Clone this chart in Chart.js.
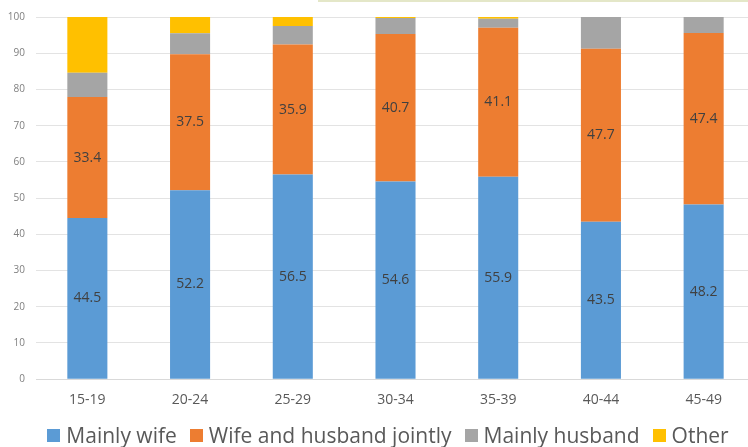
<!DOCTYPE html>
<html>
<head>
<meta charset="utf-8">
<script src="https://cdn.jsdelivr.net/npm/chart.js@4.4.1/dist/chart.umd.min.js"></script>
<style>
  html, body { margin: 0; padding: 0; background: #fff; overflow: hidden; }
  #wrap { position: relative; width: 748px; height: 447px; overflow: hidden; }
  #edge { position: absolute; left: 318px; top: 0; width: 430px; height: 2px; background: #e4e7c8; }
  canvas { position: absolute; left: 0; top: 0; }
  #legend {
    position: absolute; left: 0; top: 421px; width: 776px;
    display: flex; justify-content: center; white-space: nowrap;
    font: 21px 'Open Sans', sans-serif; color: #595959; line-height: 28px;
  }
  #legend .item { display: flex; align-items: center; margin: 0 6.5px; }
  #legend .box { width: 13px; height: 13px; margin-right: 6px; margin-top: 1px; }
</style>
</head>
<body>
<div id="wrap">
  <canvas id="chart" width="756" height="447"></canvas>
  <div id="legend"></div>
  <div id="edge"></div>
</div>
<script>
  const ageGroups = ["15-19", "20-24", "25-29", "30-34", "35-39", "40-44", "45-49"];
  const mainlyWife = [44.5, 52.2, 56.5, 54.6, 55.9, 43.5, 48.2];
  const jointly = [33.4, 37.5, 35.9, 40.7, 41.1, 47.7, 47.4];
  const mainlyHusband = [6.7, 5.8, 5.1, 4.4, 2.5, 8.8, 4.4];
  const other = [15.4, 4.5, 2.5, 0.3, 0.5, 0, 0];
  const yStep = 10;

  // draws the value in the middle of each segment, only for labelled series
  const segmentLabels = {
    id: "segmentLabels",
    afterDatasetsDraw(chart){
      const ctx = chart.ctx;
      ctx.save();
      ctx.font = "14px 'Open Sans'";
      ctx.fillStyle = "#404040";
      ctx.textAlign = "center";
      ctx.textBaseline = "middle";
      chart.data.datasets.forEach((ds, i) => {
        if (!ds.showLabels) return;
        chart.getDatasetMeta(i).data.forEach((bar, j) => {
          const mid = (bar.y + bar.base) / 2;
          ctx.fillText(ds.data[j].toFixed(1), bar.x, mid);
        });
      });
      ctx.restore();
    }
  };

  function series(label, data, color, showLabels){
    return {
      label, data, showLabels,
      backgroundColor: color,
      borderWidth: 0,
      barPercentage: 0.39,
      categoryPercentage: 1
    };
  }

  function renderLegend(chart){
    const wrap = document.getElementById("legend");
    wrap.innerHTML = chart.data.datasets.map(ds => `
      <span class="item"><span class="box" style="background:${ds.backgroundColor}"></span>${ds.label}</span>
    `).join("");
  }

  const chart = new Chart(document.getElementById("chart").getContext("2d"), {
    type: "bar",
    data: {
      labels: ageGroups,
      datasets: [
        series("Mainly wife", mainlyWife, "#5b9bd5", true),
        series("Wife and husband jointly", jointly, "#ed7d31", true),
        series("Mainly husband", mainlyHusband, "#a5a5a5", false),
        series("Other", other, "#ffc000", false)
      ]
    },
    options: {
      responsive: false,
      animation: false,
      layout: { padding: { left: 0, right: 1, top: 8, bottom: 35 } },
      plugins: {
        tooltip: { enabled: false },
        legend: { display: false }
      },
      scales: {
        x: {
          stacked: true,
          grid: { display: false },
          border: { color: "#d9d9d9" },
          ticks: { color: "#595959", font: { family: "'Open Sans'", size: 14 }, padding: 4 }
        },
        y: {
          stacked: true,
          min: 0,
          max: 100,
          afterFit(axis){ axis.width = 36; },
          grid: { color: "#e3e3e3", drawTicks: false },
          border: { display: false },
          ticks: { stepSize: yStep, color: "#7f7f7f", font: { family: "'Open Sans'", size: 10 }, padding: 11 }
        }
      }
    },
    plugins: [segmentLabels]
  });
  renderLegend(chart);
</script>
</body>
</html>
